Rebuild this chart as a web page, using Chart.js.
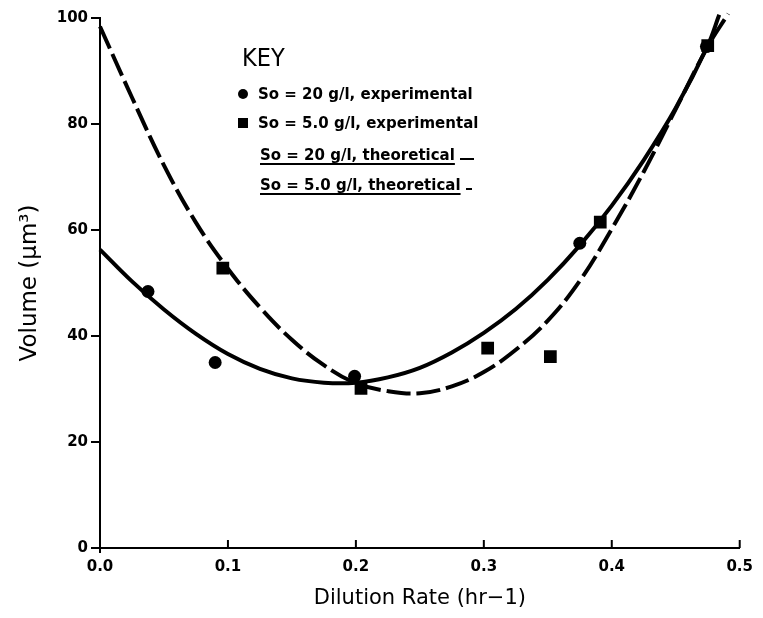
<!DOCTYPE html>
<html>
<head>
<meta charset="utf-8">
<script src="https://cdn.jsdelivr.net/npm/chart.js@4.4.1/dist/chart.umd.min.js"></script>
<style>
  html, body { margin: 0; padding: 0; background: #fff; }
  #wrap { position: relative; width: 763px; height: 618px; }
  #c { position: absolute; left: 0; top: 0; }
  .k { position: absolute; font-family: "DejaVu Sans", sans-serif; color: #000; white-space: nowrap; }
  .title { font-family: "DejaVu Sans Condensed", "DejaVu Sans", sans-serif; font-size: 25px; line-height: 25px; }
  .row { font-weight: bold; font-size: 15px; line-height: 15px; }
  .u { text-decoration: underline; text-decoration-thickness: 2px; text-underline-offset: 3px; }
  .mk { position: absolute; background: #000; width: 10px; height: 10px; }
  .sample { display: inline-block; border-bottom: 2px solid #000; vertical-align: baseline; height: 1px; }
</style>
</head>
<body>
<div id="wrap">
  <canvas id="c" width="763" height="618"></canvas>
  <div class="k title" style="left:242px; top:45px;">KEY</div>
  <div class="mk" style="left:238px; top:89px; border-radius:50%;"></div>
  <div class="k row" style="left:258px; top:87px;">So = 20 g/l, experimental</div>
  <div class="mk" style="left:238px; top:118px;"></div>
  <div class="k row" style="left:258px; top:116px;">So = 5.0 g/l, experimental</div>
  <div class="k row" style="left:260px; top:148px;"><span class="u">So = 20 g/l, theoretical</span> <span class="sample" style="width:14px;"></span></div>
  <div class="k row" style="left:260px; top:178px;"><span class="u">So = 5.0 g/l, theoretical</span> <span class="sample" style="width:6px;"></span></div>
</div>
<script>
// ---- Data ----
const xTickLabels = ['0.0', '0.1', '0.2', '0.3', '0.4', '0.5'];
const yTickLabels = ['0', '20', '40', '60', '80', '100'];

// So = 20 g/l, experimental (circles)
const exp20X = [0.0375, 0.090, 0.199, 0.375, 0.474];
const exp20Y = [48.4, 35.0, 32.4, 57.5, 94.6];

// So = 5.0 g/l, experimental (squares)
const exp5X = [0.096, 0.204, 0.303, 0.352, 0.391, 0.475];
const exp5Y = [52.8, 30.1, 37.7, 36.1, 61.5, 94.8];

// So = 20 g/l, theoretical (solid curve)
const theo20X = [0, 0.025, 0.05, 0.075, 0.1, 0.125, 0.15, 0.175, 0.2, 0.225, 0.25, 0.275, 0.3, 0.325, 0.35, 0.375, 0.4, 0.425, 0.45, 0.475, 0.484];
const theo20Y = [56.3, 50.3, 45.0, 40.4, 36.6, 33.8, 32.0, 31.2, 31.2, 32.2, 34.0, 36.9, 40.6, 45.1, 50.6, 57.1, 64.6, 73.2, 83.0, 94.8, 100.6];

// So = 5.0 g/l, theoretical (dashed curve)
const theo5X = [0, 0.025, 0.05, 0.075, 0.1, 0.125, 0.15, 0.175, 0.2, 0.225, 0.25, 0.275, 0.3, 0.325, 0.35, 0.375, 0.4, 0.425, 0.45, 0.475, 0.491];
const theo5Y = [98.4, 85.0, 72.2, 61.4, 52.7, 45.4, 39.3, 34.5, 31.1, 29.6, 29.2, 30.5, 33.2, 37.4, 42.9, 50.4, 60.2, 71.0, 82.8, 94.6, 100.8];

const zip = (xs, ys) => xs.map((x, i) => ({ x: x, y: ys[i] }));

const inwardTicks = {
  id: 'inwardTicks',
  afterDatasetsDraw(chart) {
    const xs = chart.scales.x;
    const ys = chart.scales.y;
    const ctx = chart.ctx;
    ctx.save();
    ctx.strokeStyle = '#000';
    ctx.lineWidth = 2;
    const base = ys.getPixelForValue(0);
    xs.ticks.forEach((t) => {
      const px = xs.getPixelForValue(t.value);
      ctx.beginPath();
      ctx.moveTo(px, base + (t.value === 0 ? 5 : 0));
      ctx.lineTo(px, base - 8);
      ctx.stroke();
    });
    ctx.restore();
  }
};

const tickFont = { family: 'DejaVu Sans', size: 15, weight: 'bold' };
const titleFont = { family: 'DejaVu Sans', size: 21 };

new Chart(document.getElementById('c'), {
  type: 'scatter',
  data: {
    datasets: [
      {
        type: 'line', label: 'So = 20 g/l, theoretical',
        data: zip(theo20X, theo20Y),
        borderColor: '#000', borderWidth: 4, pointRadius: 0,
        tension: 0.4, fill: false, clip: false
      },
      {
        type: 'line', label: 'So = 5.0 g/l, theoretical',
        data: zip(theo5X, theo5Y),
        borderColor: '#000', borderWidth: 4, pointRadius: 0, borderDash: [24, 6],
        tension: 0.4, fill: false, clip: false
      },
      {
        label: 'So = 20 g/l, experimental',
        data: zip(exp20X, exp20Y),
        pointStyle: 'circle', pointRadius: 6.5,
        backgroundColor: '#000', borderColor: '#000', borderWidth: 0
      },
      {
        label: 'So = 5.0 g/l, experimental',
        data: zip(exp5X, exp5Y),
        pointStyle: 'rect', pointRadius: 9,
        backgroundColor: '#000', borderColor: '#000', borderWidth: 0
      }
    ]
  },
  options: {
    responsive: false,
    animation: false,
    layout: { padding: { top: 18, right: 23, left: 0, bottom: 0 } },
    plugins: { legend: { display: false }, tooltip: { enabled: false } },
    scales: {
      x: {
        type: 'linear', min: 0, max: 0.5,
        ticks: {
          stepSize: 0.1, maxRotation: 0, color: '#000', font: tickFont, padding: 10,
          callback: (v, i) => xTickLabels[i]
        },
        grid: { drawOnChartArea: false, drawTicks: false, display: true, color: 'rgba(0,0,0,0)' },
        border: { color: '#000', width: 2 },
        title: { display: true, text: 'Dilution Rate (hr−1)', color: '#000', font: titleFont, padding: { top: 0, bottom: 7 } },
        afterFit: (s) => { s.height = 70; }
      },
      y: {
        min: 0, max: 100,
        ticks: {
          stepSize: 20, color: '#000', font: tickFont, padding: 3,
          callback: (v, i) => yTickLabels[i]
        },
        grid: { drawOnChartArea: false, drawTicks: true, tickLength: 9, color: '#000', lineWidth: 2 },
        border: { color: '#000', width: 2 },
        title: { display: true, text: 'Volume (μm³)', color: '#000', font: { family: 'DejaVu Sans', size: 23 }, padding: { top: 16, bottom: 0 } },
        afterFit: (s) => { s.width = 100; }
      }
    }
  },
  plugins: [inwardTicks]
});
</script>
</body>
</html>
